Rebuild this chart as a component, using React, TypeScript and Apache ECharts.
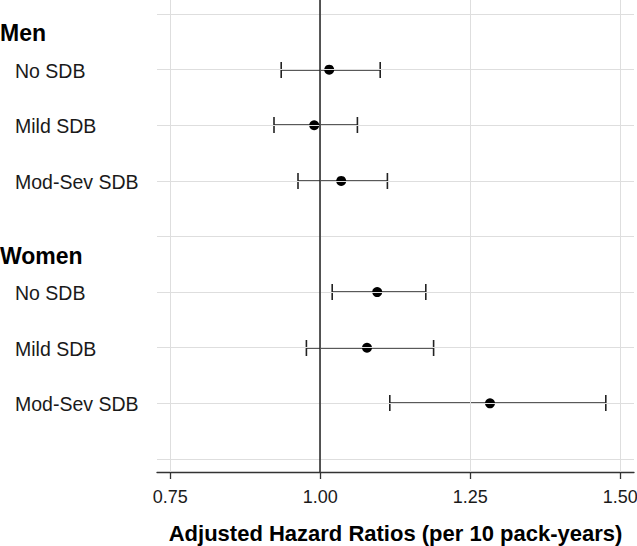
import React, { useEffect, useRef } from "react";
import * as echarts from "echarts";

const groups = ["Men", "Women"];
const subgroups = ["No SDB", "Mild SDB", "Mod-Sev SDB"];
const estimates = [
  [1.015, 0.99, 1.035],
  [1.095, 1.078, 1.283],
];
const lowerCI = [
  [0.935, 0.923, 0.963],
  [1.02, 0.977, 1.116],
];
const upperCI = [
  [1.1, 1.062, 1.112],
  [1.176, 1.189, 1.476],
];
const xTicks = [0.75, 1.0, 1.25, 1.5];
const xTitle = "Adjusted Hazard Ratios (per 10 pack-years)";

const FONT = "'Liberation Sans', Arial, Helvetica, sans-serif";

export default function App() {
  const ref = useRef<HTMLDivElement>(null);

  useEffect(() => {
    if (!ref.current) return;
    const chart = echarts.init(ref.current, null, { renderer: "svg" });

    // rows: group g header at g*4+1, subgroup rows g*4+2+i, final blank row 9
    const rowCount = groups.length * (subgroups.length + 1) + 1;
    const rows: number[] = [];
    for (let r = 1; r <= rowCount; r++) rows.push(r);

    const points: number[][] = [];
    const bars: number[][] = [];
    groups.forEach((g, gi) => {
      subgroups.forEach((s, si) => {
        const row = gi * 4 + 2 + si;
        points.push([estimates[gi][si], row]);
        bars.push([lowerCI[gi][si], upperCI[gi][si], row]);
      });
    });

    const gridColor = "#dedede";

    chart.setOption({
      animation: false,
      grid: {
        left: 157,
        right: 3,
        top: 0,
        bottom: 74,
        containLabel: false,
        outerBoundsMode: "none",
      },
      xAxis: {
        type: "value",
        min: 0.728,
        max: 1.523,
        splitLine: { show: false },
        axisLine: { show: true, lineStyle: { color: "#333", width: 1.3 } },
        axisTick: {
          show: true,
          length: 7,
          customValues: xTicks,
          lineStyle: { color: "#333", width: 1.3 },
        },
        axisLabel: {
          customValues: xTicks,
          formatter: (v: number) => v.toFixed(2),
          fontSize: 18,
          color: "#1a1a1a",
          fontFamily: FONT,
          margin: 16,
        },
        name: xTitle,
        nameLocation: "middle",
        nameGap: 50,
        nameTextStyle: {
          fontSize: 22,
          fontWeight: "bold",
          color: "#000",
          fontFamily: FONT,
        },
      },
      yAxis: {
        type: "value",
        inverse: true,
        min: 0.748,
        max: 9.234,
        splitLine: { show: false },
        axisLine: { show: false },
        axisTick: { show: false },
        axisLabel: { show: false },
      },
      series: [
        {
          type: "scatter",
          data: [],
          silent: true,
          z: 1,
          markLine: {
            silent: true,
            symbol: "none",
            label: { show: false },
            lineStyle: { color: gridColor, width: 1, type: "solid" },
            data: [
              ...rows.map((r) => ({ yAxis: r })),
              ...xTicks.map((t) => ({ xAxis: t })),
            ],
          },
        },
        {
          type: "scatter",
          data: [],
          silent: true,
          z: 2,
          markLine: {
            silent: true,
            symbol: "none",
            label: { show: false },
            lineStyle: { color: "#222", width: 1.5, type: "solid", opacity: 1 },
            data: [{ xAxis: 1 }],
          },
        },
        {
          type: "custom",
          z: 3,
          silent: true,
          data: bars,
          renderItem: (params: any, api: any) => {
            const lo = api.coord([api.value(0), api.value(2)]);
            const hi = api.coord([api.value(1), api.value(2)]);
            const cap = 8;
            const y = Math.round(lo[1]);
            const style = { stroke: "#222", lineWidth: 1.6, opacity: 1 };
            return {
              type: "group",
              children: [
                { type: "line", shape: { x1: lo[0], y1: y, x2: hi[0], y2: y }, style },
                { type: "line", shape: { x1: lo[0], y1: y - cap, x2: lo[0], y2: y + cap }, style },
                { type: "line", shape: { x1: hi[0], y1: y - cap, x2: hi[0], y2: y + cap }, style },
              ],
            };
          },
        },
        {
          type: "scatter",
          z: 4,
          silent: true,
          data: points,
          symbol: "circle",
          symbolSize: 10,
          itemStyle: { color: "#000", opacity: 1 },
        },
      ],
    });

    const texts: any[] = [];
    groups.forEach((g, gi) => {
      const headerY = chart.convertToPixel({ yAxisIndex: 0 }, gi * 4 + 1) as number;
      texts.push({
        type: "text",
        x: 0,
        y: headerY + 19,
        style: {
          text: g,
          fontSize: 23,
          fontWeight: "bold",
          fill: "#000",
          fontFamily: FONT,
          verticalAlign: "middle",
          align: "left",
        },
      });
      subgroups.forEach((s, si) => {
        const y = chart.convertToPixel({ yAxisIndex: 0 }, gi * 4 + 2 + si) as number;
        texts.push({
          type: "text",
          x: 15,
          y: y + 1,
          style: {
            text: s,
            fontSize: 19.5,
            fill: "#1a1a1a",
            fontFamily: FONT,
            verticalAlign: "middle",
            align: "left",
          },
        });
      });
    });
    chart.setOption({ graphic: texts });

    return () => chart.dispose();
  }, []);

  return (
    <div
      ref={ref}
      style={{ position: "absolute", left: 0, top: 0, width: 637, height: 546 }}
    />
  );
}
